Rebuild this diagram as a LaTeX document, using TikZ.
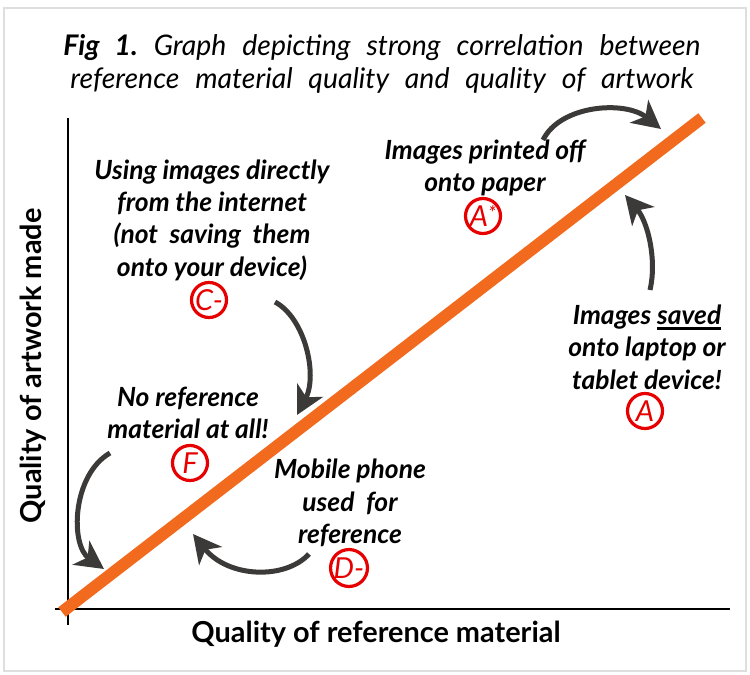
\documentclass[tikz,border=0pt]{standalone}
\usepackage{fontspec}
\setmainfont{Lato}
\usetikzlibrary{arrows.meta}
\definecolor{trendorange}{HTML}{F26A1E}
\definecolor{arrowgray}{HTML}{3C3A38}
\definecolor{gradered}{HTML}{E60000}
\definecolor{framegray}{HTML}{DEDEDE}
\frenchspacing
\newlength\ulwd
\newcommand{\thickunder}[1]{\settowidth{\ulwd}{#1}\rlap{\rule[-5.5bp]{\ulwd}{2.6bp}}#1}

\begin{document}
\begin{tikzpicture}[x=1bp, y=-1bp,
		 note/.style={align=center, inner sep=0pt,
		     font=\fontsize{26.5}{32.5}\selectfont\bfseries\itshape},
		 grade/.style={circle, draw=gradered, line width=3.2bp, text=gradered,
		     minimum size=35bp, inner sep=0pt, font=\fontsize{29}{29}\selectfont\itshape},
		 hint/.style={draw=arrowgray, line width=5bp,
		     -{Stealth[length=28bp, width=29bp, inset=8bp]}},
		 axislab/.style={inner sep=0pt, font=\fontsize{29}{30}\selectfont\bfseries}]
    % \draw[help lines] (0,0) grid[step=50] (750,675);
		\useasboundingbox (0,0) rectangle (750,675);
		\draw[framegray, line width=1.5bp] (4,8) rectangle (746,671);
		% title
		\node[align=center, inner sep=0pt, font=\fontsize{28.5}{32.5}\selectfont\itshape] (title) at (382,64)
		    {\makebox[637bp][s]{\textbf{Fig 1.} Graph depicting strong correlation between}\\
		     \makebox[623bp][s]{reference material quality and quality of artwork}};
		% axes
		\coordinate (ytop) at (68,118);
		\coordinate (ybot) at (68,625);
		\coordinate (xleft) at (55,609);
		\coordinate (xright) at (730,609);
		\draw[line width=1.6bp] (ytop) -- (ybot);
		\draw[line width=1.6bp] (xleft) -- (xright);
		\node[axislab, rotate=90] (ylab) at (33,366) {Quality of artwork made};
		\node[axislab] (xlab) at (376,634) {Quality of reference material};
		% trend line
		\coordinate (tlow) at (62,612);
		\coordinate (thigh) at (702,118);
		\draw[trendorange, line width=12bp] (tlow) -- (thigh);
		% notes
		\node[note] (internet) at (212,220)
		    {Using images directly\\from the internet\\(not\ \ saving\ \ them\\onto your device)};
		\node[grade] (gradeC) at (209,300) {C-};
		\node[note] (none) at (188,413) {No reference\\material at all!};
		\node[grade] (gradeF) at (190,463) {F};
		\node[note] (mobile) at (350,503) {Mobile phone\\used\ \ for\\reference};
		\node[grade] (gradeD) at (349,568) {D-};
		\node[note] (printed) at (485,168) {Images printed off\\onto paper};
		\node[grade] (gradeAs) at (483,216) {A\raisebox{6bp}{\fontsize{20}{20}\selectfont*}};
		\node[note] (saved) at (647,347) {Images \thickunder{saved}\\onto laptop or\\tablet device!};
		\node[grade] (gradeA) at (645,411) {A};
		% arrows towards the line
		\coordinate (cfrom) at (275,302);
		\coordinate (cto) at (297,415);
		\draw[hint] (cfrom) .. controls (305,318) and (318,375) .. (cto);
		\coordinate (ffrom) at (110,453);
		\coordinate (fto) at (104,569);
		\draw[hint] (ffrom) .. controls (72,475) and (70,545) .. (fto);
		\coordinate (dfrom) at (309,554);
		\coordinate (dto) at (193,534);
		\draw[hint] (dfrom) .. controls (285,580) and (228,578) .. (dto);
		\coordinate (pfrom) at (543,140);
		\coordinate (pto) at (661,129);
		\draw[hint] (pfrom) .. controls (560,105) and (625,100) .. (pto);
		\coordinate (sfrom) at (650,290);
		\coordinate (sto) at (625,195);
		\draw[hint] (sfrom) .. controls (657,260) and (648,222) .. (sto);
\end{tikzpicture}
\end{document}
